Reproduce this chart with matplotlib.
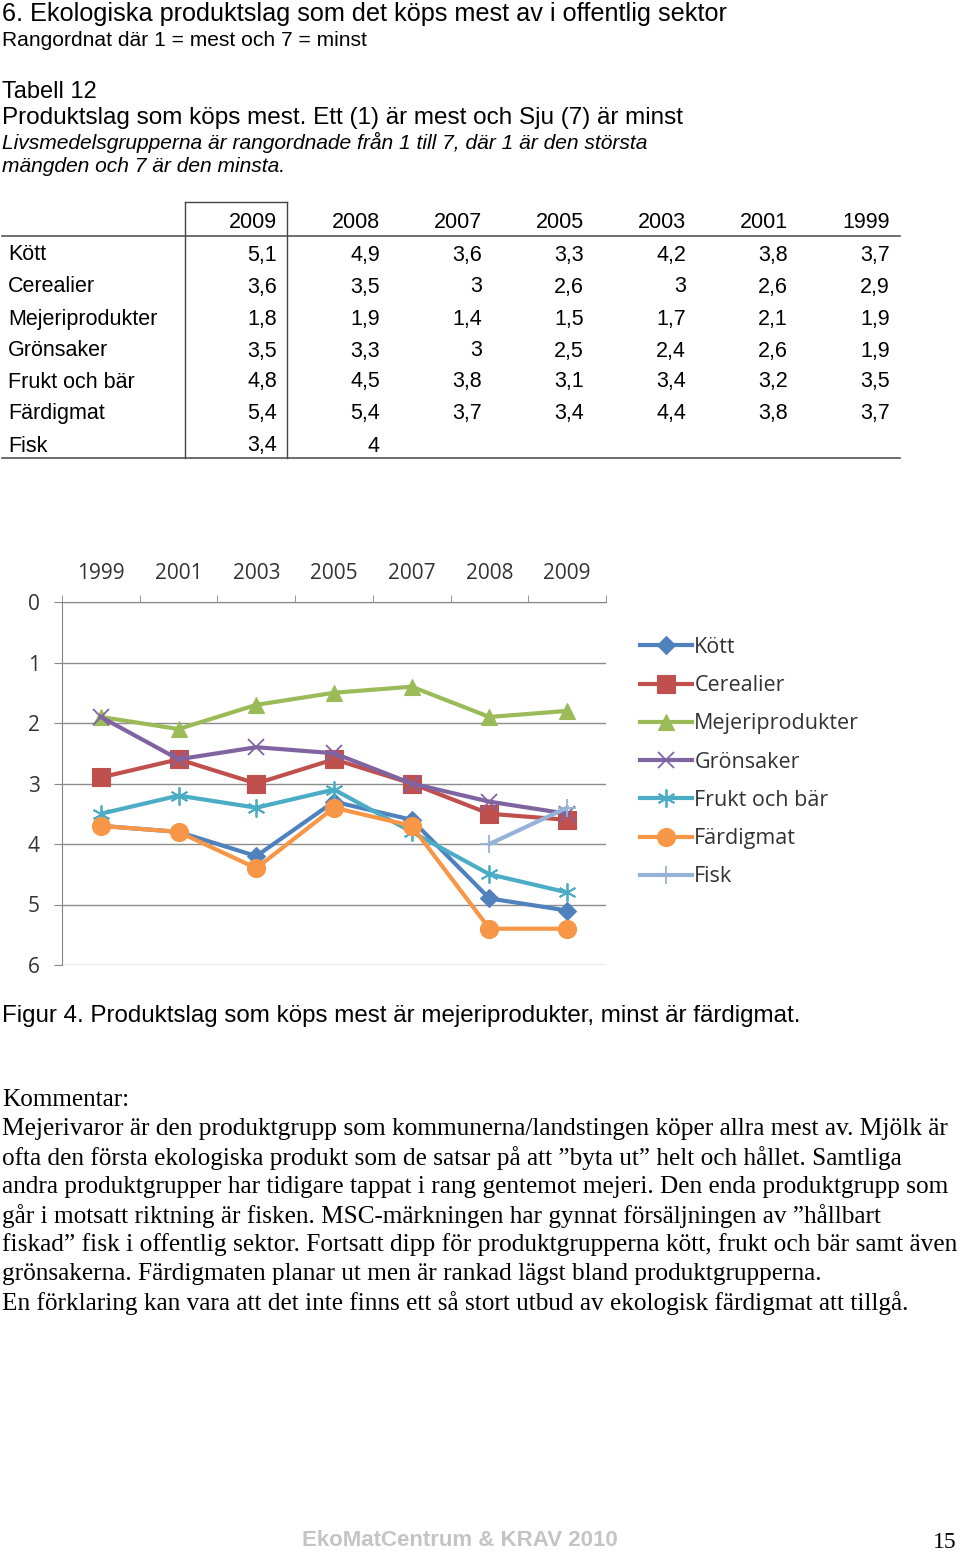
import numpy as np
import matplotlib
matplotlib.use('Agg')
import matplotlib.pyplot as plt
from matplotlib.lines import Line2D

# table data, columns as in the printed table (2009 -> 1999)
years_table = ['2009', '2008', '2007', '2005', '2003', '2001', '1999']
products = ['Kött', 'Cerealier', 'Mejeriprodukter', 'Grönsaker', 'Frukt och bär', 'Färdigmat', 'Fisk']
kott = [5.1, 4.9, 3.6, 3.3, 4.2, 3.8, 3.7]
cerealier = [3.6, 3.5, 3, 2.6, 3, 2.6, 2.9]
mejeri = [1.8, 1.9, 1.4, 1.5, 1.7, 2.1, 1.9]
gronsaker = [3.5, 3.3, 3, 2.5, 2.4, 2.6, 1.9]
frukt = [4.8, 4.5, 3.8, 3.1, 3.4, 3.2, 3.5]
fardigmat = [5.4, 5.4, 3.7, 3.4, 4.4, 3.8, 3.7]
fisk = [3.4, 4, np.nan, np.nan, np.nan, np.nan, np.nan]
series = [kott, cerealier, mejeri, gronsaker, frukt, fardigmat, fisk]

colors = ['#4F81BD', '#C0504D', '#9BBB59', '#8064A2', '#4BACC6', '#F79646', '#95B3D7']
markers = ['D', 's', '^', 'x', (6, 2, 0), 'o', '+']
msizes = [9.5, 12.5, 12, 12, 13, 13, 13]

comment = [
    'Mejerivaror är den produktgrupp som kommunerna/landstingen köper allra mest av. Mjölk är',
    'ofta den första ekologiska produkt som de satsar på att ”byta ut” helt och hållet. Samtliga',
    'andra produktgrupper har tidigare tappat i rang gentemot mejeri. Den enda produktgrupp som',
    'går i motsatt riktning är fisken. MSC-märkningen har gynnat försäljningen av ”hållbart',
    'fiskad” fisk i offentlig sektor. Fortsatt dipp för produktgrupperna kött, frukt och bär samt även',
    'grönsakerna. Färdigmaten planar ut men är rankad lägst bland produktgrupperna.',
    'En förklaring kan vara att det inte finns ett så stort utbud av ekologisk färdigmat att tillgå.',
]

W, H = 960, 1554
fig = plt.figure(figsize=(W / 100, H / 100), dpi=100)
fig.patch.set_facecolor('white')
renderer = fig.canvas.get_renderer()


def fx(x):
    return x / W


def fy(y):
    return 1 - y / H


def put(x, y, s, width=None, **kw):
    kw.setdefault('va', 'center')
    t = fig.text(fx(x), fy(y), s, **kw)
    if width is not None:
        w = t.get_window_extent(renderer).width
        t.set_fontsize(t.get_fontsize() * width / w)
    return t


def hline(x0, x1, y, lw=1.0, color='#444444'):
    fig.add_artist(Line2D([fx(x0), fx(x1)], [fy(y), fy(y)], transform=fig.transFigure, lw=lw, color=color))


def vline(x, y0, y1, lw=1.0, color='#444444'):
    fig.add_artist(Line2D([fx(x), fx(x)], [fy(y0), fy(y1)], transform=fig.transFigure, lw=lw, color=color))


sans = 'Liberation Sans'
serif = 'Liberation Serif'

# header texts
put(2, 14, '6. Ekologiska produktslag som det köps mest av i offentlig sektor', width=725, family=sans, fontsize=16)
put(2, 40, 'Rangordnat där 1 = mest och 7 = minst', width=365, family=sans, fontsize=12)
put(2, 92, 'Tabell 12', width=95, family=sans, fontsize=14)
put(2, 118, 'Produktslag som köps mest. Ett (1) är mest och Sju (7) är minst', width=686, family=sans, fontsize=14)
put(2, 142, 'Livsmedelsgrupperna är rangordnade från 1 till 7, där 1 är den största', width=650, family=sans,
    fontsize=14, style='italic')
put(2, 166, 'mängden och 7 är den minsta.', width=285, family=sans, fontsize=14, style='italic')

# table
col_right = [277, 380, 482, 584, 686, 788, 890]
row_y = [255, 287, 319, 351, 382, 414, 446]
tfs = 15.5
for j, yr in enumerate(years_table):
    put(col_right[j], 222, yr, family=sans, fontsize=tfs, ha='right')
for i, name in enumerate(products):
    put(8, row_y[i], name, family=sans, fontsize=tfs)
    for j, v in enumerate(series[i]):
        if np.isnan(v):
            continue
        put(col_right[j], row_y[i], f'{v:g}'.replace('.', ','), family=sans, fontsize=tfs, ha='right')
hline(185, 287, 202)
hline(2, 900, 236, lw=1.2, color='#555555')
hline(2, 900, 458, lw=1.2, color='#555555')
vline(185, 202, 458)
vline(287, 202, 458)

# chart
ax = fig.add_axes([fx(62), fy(965), 544 / W, 363 / H])
x = np.arange(len(years_table))
for vals, name, c, m, ms in zip(series, products, colors, markers, msizes):
    thin = m in ('x', '+') or isinstance(m, tuple)
    ax.plot(x, vals[::-1], color=c, lw=3, marker=m, markersize=ms, mew=1.3 if thin else 0.8,
            mec=c, label=name, solid_joinstyle='round')
ax.set_xlim(-0.5, len(x) - 0.5)
ax.set_ylim(6, 0)
ax.set_yticks(range(7))
ax.set_xticks(x)
ax.set_xticklabels(years_table[::-1])
ax.xaxis.tick_top()
ax.set_xticks(np.arange(-0.5, len(x)), minor=True)
ax.tick_params(axis='x', which='major', length=0, pad=13, labelsize=15, labelcolor='#333333')
ax.tick_params(axis='x', which='minor', direction='out', length=5, color='#868686', top=True, bottom=False)
ax.tick_params(axis='y', direction='out', length=6, color='#868686', labelsize=15, labelcolor='#333333', pad=10)
for lab in ax.get_xticklabels() + ax.get_yticklabels():
    lab.set_family('Open Sans')
ax.grid(axis='y', color='#8C8C8C', lw=1)
ax.set_axisbelow(True)
for s in ['right', 'bottom']:
    ax.spines[s].set_visible(False)
for s in ['left', 'top']:
    ax.spines[s].set_color('#868686')

leg = fig.legend(loc='upper left', bbox_to_anchor=(fx(640), fy(637)), frameon=False, borderpad=0,
                 borderaxespad=0, handlelength=2.4, handletextpad=0.12, labelspacing=0.8,
                 prop={'family': 'Open Sans', 'size': 15.5})
for t in leg.get_texts():
    t.set_color('#333333')

# caption and comment
put(2, 1016, 'Figur 4. Produktslag som köps mest är mejeriprodukter, minst är färdigmat.', width=808,
    family=sans, fontsize=14)
put(2, 1100, 'Kommentar:', width=127, family=serif, fontsize=17)
widths = [945, 902, 947, 880, 953, 820, 907]
for k, (line, wd) in enumerate(zip(comment, widths)):
    put(2, 1129 + 29 * k, line, width=wd, family=serif, fontsize=17)

put(302, 1540, 'EkoMatCentrum & KRAV 2010', width=315, family=sans, fontsize=13.5, weight='bold', color='#C4C4C4')
put(957, 1542, '15', family=serif, fontsize=17, ha='right')

fig.savefig('out.png', dpi=100)
